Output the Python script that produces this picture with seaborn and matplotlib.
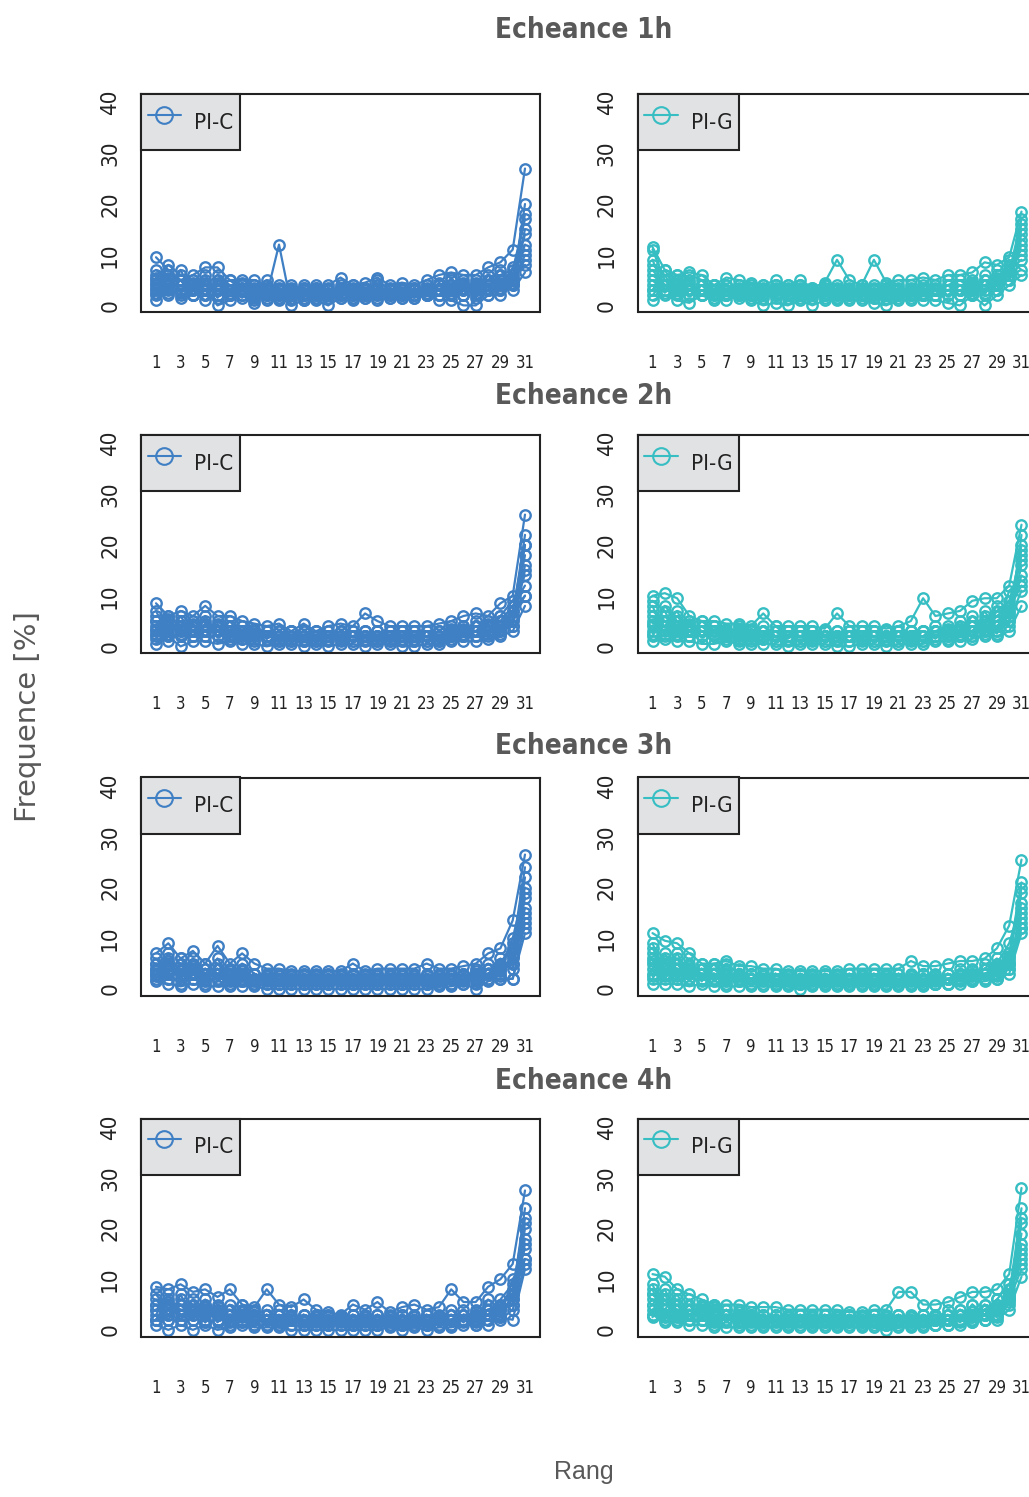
import pandas as pd
import matplotlib
matplotlib.use("Agg")
import matplotlib.pyplot as plt
from matplotlib.lines import Line2D
import seaborn as sns

rangs = list(range(1, 32))
echeances = ["1h", "2h", "3h", "4h"]
produits = ["PI-C", "PI-G"]
couleurs = {"PI-C": "#3F7FC4", "PI-G": "#36BEC3"}

# frequences (%) par rang, quelques membres par panneau
pic_1h = [
    [9.5, 7, 5, 6, 7.5, 7.5, 5, 5, 5, 4, 3, 3, 4, 3, 4, 5.5, 4, 4.5, 5.5, 4, 4.5, 4, 5, 6, 6.5, 6, 6, 7.5, 8.5, 11, 27],
    [1, 4, 1.5, 2, 3, 0, 1, 2, 0.5, 2, 12, 0, 1, 1, 0, 1.5, 1, 2, 1, 1.5, 2, 1.5, 2, 1, 1, 0, 0, 2, 2, 4, 20],
    [5, 8, 6, 5, 4, 6, 4, 3, 4, 3, 2, 3, 2, 3, 2, 3, 2, 3, 2, 3, 2, 3, 3, 3, 4, 3, 4, 3, 5, 5, 14],
    [3, 2, 4, 3, 1, 3, 2, 4, 2, 2, 1, 2, 3, 2, 3, 2, 3, 1.5, 3, 2, 3, 2, 4, 3, 2, 4, 2, 4, 3, 6, 8],
    [7, 5, 3, 4, 6, 2, 3, 1.5, 3, 5, 2, 1, 2, 4, 1.5, 3, 1.5, 3, 4, 2, 3, 3, 2, 4, 5, 2, 4, 5, 7, 4, 10],
    [4, 6, 5, 2, 3, 4, 5, 3, 2, 1, 4, 3, 1, 2, 3, 2, 3, 2, 2, 3, 2, 2, 3, 2, 3, 5, 3, 3, 4, 3, 6.5],
    [6, 3, 7, 2, 5, 3, 2, 4.5, 1, 3, 2, 4, 2, 3.5, 2, 4, 2, 3.5, 2.5, 3, 1.5, 3.5, 2, 4.5, 3, 4, 1.5, 6, 3, 5, 12],
    [2, 6, 2.5, 4.5, 2, 5, 3, 2, 3.5, 2, 3, 2, 3.5, 2, 3, 2, 4, 2, 3, 2, 3.5, 2, 3, 2, 5.5, 2, 5, 2, 6, 7, 17],
    [4.5, 4, 4, 3.5, 4, 2, 4, 3, 3, 3.5, 1.5, 2.5, 3, 1.5, 2.5, 3.5, 2, 2.5, 5, 3, 2.5, 3, 3.5, 3, 2.5, 3.5, 3, 4, 5, 5, 9],
    [5.5, 2.5, 5, 2, 4.5, 1.5, 4, 2, 4, 1.5, 3.5, 1.5, 3.5, 1.5, 3.5, 1.5, 3.5, 1.5, 3.5, 1.5, 3.5, 1.5, 4, 2, 4, 2, 4.5, 3, 6, 4.5, 15],
    [2.5, 5.5, 3, 5, 2, 4.5, 2, 4, 1.5, 3.5, 1.5, 3.5, 1.5, 3.5, 1.5, 3.5, 1.5, 3.5, 1.5, 3.5, 1.5, 3.5, 2, 4, 2, 4.5, 2.5, 5, 3.5, 7.5, 11],
    [3.5, 3.5, 2, 3, 4, 3, 2.5, 3.5, 2.5, 2.5, 2.5, 2, 2.5, 2.5, 2, 2.5, 2.5, 2, 2.5, 2.5, 2.5, 2, 2.5, 3, 3.5, 3, 3.5, 3.5, 4.5, 5.5, 18],
]
pig_1h = [
    [11.5, 7, 6, 6.5, 6, 4, 5.5, 5, 4.5, 4, 5, 4, 5, 3.5, 4.5, 9, 5, 4, 9, 4.5, 5, 5, 5.5, 5, 6, 6, 6.5, 8.5, 8, 9.5, 18.5],
    [1, 2, 1, 0.5, 2, 1, 1, 2, 1, 0, 0.5, 0, 1, 0, 1, 1, 1, 1, 0.5, 0, 1, 1, 1, 1, 0.5, 0, 2, 0, 2, 4, 6],
    [11, 5, 4, 3, 4, 3, 3, 4, 3, 3, 3, 3, 3, 3, 3, 3, 3, 3, 3, 3, 3, 3, 3, 3, 3, 3, 4, 4, 5, 6, 16],
    [4, 3, 5, 2, 3, 2, 2, 2, 2, 2, 2, 2, 2, 2, 2, 2, 2, 2, 2, 2, 2, 2, 2, 2, 2, 3, 3, 3, 4, 5, 12],
    [8, 6, 2, 4, 2, 3, 4, 3, 4, 3, 4, 2, 4, 2, 3, 4, 2, 3, 4, 3, 4, 2, 4, 3, 4, 5, 3, 6, 5, 7, 9],
    [3, 7, 3, 6, 5, 2, 3, 1.5, 2, 4, 2, 4, 2, 3, 4, 2, 4, 2, 2, 4, 2, 4, 2, 4, 3, 2, 5, 2, 7, 6, 14],
    [6, 4, 5, 3, 4, 4, 2, 4, 2, 3, 2, 3, 3, 2, 2, 3, 3, 3, 1.5, 3, 2, 3, 3, 2, 5, 4, 2, 5, 3, 8, 10],
    [2, 5, 3, 5, 2, 4, 4, 2, 3, 2, 4, 2, 4, 2, 4, 1.5, 3, 2, 3, 2, 3, 2, 3, 2, 3, 4, 4, 3, 6, 5, 15],
    [9, 3, 6, 2, 4, 3, 3, 3, 2, 3, 2, 3, 2, 3, 2, 3, 2, 4, 2, 3, 2, 3, 2, 4, 2, 3, 2, 4, 4, 9, 7],
    [5, 2.5, 4.5, 2, 4, 1.5, 4, 2, 3.5, 1.5, 3.5, 1.5, 3.5, 1.5, 3.5, 1.5, 3.5, 1.5, 3.5, 1.5, 3.5, 1.5, 3.5, 2, 4, 2, 4.5, 2.5, 5.5, 6, 13],
    [3, 5, 2.5, 4.5, 2, 4, 2, 3.5, 1.5, 3.5, 1.5, 3.5, 1.5, 3.5, 1.5, 3.5, 1.5, 3.5, 1.5, 3.5, 1.5, 3.5, 2, 3.5, 2, 4, 2.5, 5, 3, 7, 11],
    [7, 4, 3.5, 3, 3, 2.5, 2.5, 2.5, 2.5, 2.5, 2.5, 2.5, 2.5, 2.5, 2.5, 2.5, 2.5, 2.5, 2.5, 2.5, 2.5, 2.5, 2.5, 3, 3, 3, 3.5, 4, 4.5, 6.5, 17],
]
pic_2h = [
    [8.5, 6, 7, 6, 8, 6, 6, 5, 4.5, 4, 4.5, 3, 4.5, 3, 4, 4.5, 4, 6.5, 5, 4, 4, 4, 4, 4.5, 5, 6, 6.5, 6, 8.5, 10, 26],
    [0.5, 2, 0, 1, 1, 0.5, 1, 0.5, 0.5, 0, 0.5, 0.5, 0, 0.5, 0, 0.5, 0.5, 0, 0.5, 0.5, 0, 0, 0.5, 0.5, 1, 1, 1, 1.5, 2, 3, 8],
    [4, 3, 5, 3, 4, 3, 3, 3, 3, 2, 2, 2, 2, 2, 2, 2, 2, 2, 2, 2, 2, 2, 2, 2, 3, 3, 3, 4, 4, 6, 22],
    [6, 5, 2, 4, 2, 4, 2, 2, 2, 3, 2, 2, 3, 2, 2, 3, 2, 3, 2, 3, 2, 3, 2, 3, 2, 3, 4, 3, 5, 8, 12],
    [2, 4, 4, 5, 5, 2, 4, 1.5, 3, 1.5, 3, 1, 1.5, 1, 3, 1, 3, 1, 3, 1, 3, 1, 3, 1, 2, 4, 2, 5, 3, 5, 18],
    [5, 1, 3, 2, 3, 5, 3, 4, 2, 2, 1.5, 2, 1, 2, 1.5, 2, 1, 2, 1.5, 2, 1.5, 2, 1, 2, 3, 2, 5, 3, 6, 9, 14],
    [3, 6, 2, 5, 3, 4, 2, 3, 2, 3, 2, 3, 2, 3, 2, 3, 2, 3, 2, 3, 2, 3, 2, 3, 2, 4, 3, 5, 4, 7, 20],
    [7, 2, 6, 2, 6, 2, 5, 2, 3, 2, 3, 1, 3, 1, 2, 2, 3, 2, 3, 1, 3, 1, 3, 1, 4, 2, 4, 2, 6, 6, 10],
    [1.5, 5, 3, 3, 4, 3, 3, 3, 1, 3, 1, 3, 2, 2, 2, 1.5, 2, 2, 1, 2, 2, 2, 2, 2, 3, 3, 2, 4, 3, 4, 16],
    [5, 2.5, 5, 2, 4.5, 2, 4, 1.5, 3.5, 1.5, 3, 1.5, 3, 1.5, 3, 1.5, 3, 1.5, 3, 1.5, 3, 1.5, 3, 1.5, 3.5, 2, 4, 2.5, 5, 4, 15],
    [2.5, 5.5, 2.5, 4.5, 2, 4.5, 1.5, 4, 1.5, 3, 1, 3, 1, 3, 1, 3, 1, 3, 1, 3, 1, 3, 1, 3, 1.5, 3.5, 2, 4.5, 2.5, 7, 10],
    [3.5, 3.5, 3.5, 3, 3, 3, 2.5, 2.5, 2.5, 2, 2, 2, 2, 2, 2, 2, 2, 2, 2, 2, 2, 2, 2, 2, 2.5, 2.5, 3, 3, 3.5, 5.5, 20],
]
pig_2h = [
    [10, 10.5, 9.5, 6, 5, 5, 4.5, 4.5, 4, 6.5, 4, 4, 4, 4, 3.5, 6.5, 4, 4, 4, 3.5, 4, 5, 9.5, 6, 6.5, 7, 9, 9.5, 9.5, 12, 24],
    [1, 1.5, 1, 1, 0.5, 0.5, 1, 0.5, 0.5, 0.5, 0.5, 0, 0.5, 0.5, 0.5, 0, 0, 0.5, 0.5, 0, 0.5, 0.5, 0.5, 1, 1, 1, 1.5, 2, 2, 3, 8],
    [7, 5, 4, 3, 3, 3, 3, 3, 3, 3, 3, 2, 3, 2, 2, 2, 2, 2, 2, 2, 2, 2, 2, 3, 3, 3, 4, 4, 5, 7, 20],
    [4, 3, 6, 3, 4, 2, 2, 2, 2, 2, 2, 3, 2, 3, 2, 3, 2, 3, 2, 3, 2, 3, 3, 2, 3, 4, 3, 5, 4, 6, 14],
    [9, 7, 2, 5, 2, 4, 2.5, 3, 2, 3, 2, 2, 3, 1.5, 3, 1.5, 3, 1.5, 3, 1.5, 3, 1.5, 2, 3, 2, 3, 5, 3, 7, 9, 17],
    [3, 8, 5, 2, 3, 2, 3, 1.5, 3, 1.5, 3, 1, 1, 2, 1, 2, 1, 2, 1, 2, 1, 2, 1, 3, 4, 2, 3, 6, 3, 5, 11],
    [6, 4, 7, 2, 5, 3, 3, 2, 3, 2, 4, 2, 3, 2, 3, 2, 3, 2, 3, 2, 3, 2, 3, 2, 3, 2, 4, 3, 6, 8, 19],
    [2, 6, 3, 4, 2, 4, 2, 4, 1, 2, 1, 3, 2, 3, 2, 2, 2, 3, 2, 2, 2, 3, 3, 2, 2, 5, 2, 7, 3, 11, 13],
    [8, 2, 4, 5, 3, 3, 3, 1, 2, 4, 2, 2, 2, 1, 2, 1, 3, 1, 2, 1, 3, 1, 2, 4, 3, 3, 6, 4, 8, 4, 22],
    [5, 2.5, 5, 2, 4, 2, 3.5, 1.5, 3.5, 1.5, 3, 1.5, 3, 1.5, 3, 1.5, 3, 1.5, 3, 1.5, 3, 1.5, 3, 1.5, 3.5, 2, 4, 2.5, 5, 5, 16],
    [2.5, 5, 2.5, 4.5, 2, 4, 1.5, 3.5, 1.5, 3, 1, 3, 1, 3, 1, 3, 1, 3, 1, 3, 1, 3, 1, 3, 1.5, 3.5, 2, 4.5, 2.5, 7.5, 12],
    [4.5, 4, 3.5, 3, 3, 2.5, 2.5, 2.5, 2.5, 2, 2, 2, 2, 2, 2, 2, 2, 2, 2, 2, 2, 2, 2, 2, 2.5, 2.5, 3, 3.5, 4, 6.5, 18],
]
pic_3h = [
    [7, 9, 6, 7.5, 5, 8.5, 5, 7, 5, 4, 4, 3.5, 3.5, 3.5, 3.5, 3.5, 5, 3.5, 4, 4, 4, 4, 5, 4, 4, 4.5, 5, 7, 8, 13.5, 26.5],
    [1.5, 1, 0.5, 1, 0.5, 0.5, 0.5, 0.5, 0.5, 0, 0, 0, 0, 0, 0, 0, 0, 0, 0, 0, 0, 0, 0, 0.5, 0.5, 1, 0, 1.5, 2, 2, 11],
    [4, 4, 4, 3, 3, 3, 2, 2, 2, 2, 2, 2, 2, 2, 2, 2, 2, 2, 2, 2, 2, 2, 2, 2, 2, 2, 3, 4, 4, 6, 22],
    [3, 6, 2, 5, 2, 4, 1, 3, 1.5, 2.5, 1, 2, 1, 2, 1, 2, 1, 2, 1, 2, 1, 2, 1, 2, 1, 3, 2, 3, 5, 9, 15],
    [5, 2, 5, 2, 4, 2, 3, 1.5, 3, 1, 3, 1, 3, 1, 3, 1, 3, 1, 3, 1, 3, 1, 3, 1, 3, 1, 4, 2, 6, 4, 18],
    [2.5, 5, 3, 4, 1, 5, 2, 4, 2, 3, 1.5, 2.5, 1.5, 2.5, 1.5, 2.5, 1.5, 2.5, 1.5, 2.5, 1.5, 2.5, 1.5, 2.5, 2, 2.5, 3, 5, 3, 7, 12],
    [6, 3, 6, 3, 5, 3, 4, 2, 2, 2, 2, 2, 2, 2, 2, 2, 2, 2, 2, 2, 2, 2, 2, 2, 2, 2, 3, 3, 5, 8, 24],
    [3, 7, 3, 6, 3, 6, 2, 5, 3, 1.5, 2.5, 1.5, 2.5, 1.5, 2.5, 1.5, 2.5, 1.5, 2.5, 1.5, 2.5, 1.5, 2.5, 1.5, 2.5, 2, 2, 4, 4, 10, 20],
    [4, 3, 1, 4, 2, 2, 4, 2, 1, 3, 1, 3, 1, 3, 1, 3, 1, 3, 1, 3, 1, 3, 1, 3, 1, 3, 1, 2, 2, 2, 13],
    [5, 2, 5, 2, 4, 1.5, 3.5, 1.5, 3, 1, 3, 1, 3, 1, 3, 1, 3, 1, 3, 1, 3, 1, 3, 1, 3, 1.5, 3.5, 2, 4.5, 5, 16],
    [2, 5.5, 2, 4.5, 1.5, 4, 1.5, 3.5, 1, 2.5, 1, 2.5, 1, 2.5, 1, 2.5, 1, 2.5, 1, 2.5, 1, 2.5, 1, 2.5, 1, 3, 1.5, 4, 2.5, 6.5, 19],
    [3.5, 3.5, 3.5, 3, 3, 3, 2.5, 2.5, 2, 2, 2, 1.5, 1.5, 1.5, 1.5, 1.5, 1.5, 1.5, 1.5, 1.5, 1.5, 1.5, 1.5, 1.5, 2, 2, 2.5, 3, 3.5, 5, 14],
]
pig_3h = [
    [11, 9.5, 9, 7, 5, 5, 5.5, 4.5, 4.5, 4, 4, 3.5, 3.5, 3.5, 3.5, 3.5, 4, 4, 4, 4, 4, 5.5, 4.5, 4.5, 5, 5.5, 5.5, 6, 8, 12.5, 25.5],
    [1, 1, 1, 0.5, 1, 0.5, 0.5, 0.5, 0.5, 0.5, 0.5, 0.5, 0, 0.5, 0.5, 0.5, 0.5, 0.5, 0.5, 0.5, 0.5, 0.5, 0.5, 1, 1, 1, 1.5, 1.5, 2, 3, 11],
    [7, 5, 4, 3, 3, 3, 2, 2, 2, 2, 2, 2, 2, 2, 2, 2, 2, 2, 2, 2, 2, 2, 2, 2, 2, 3, 3, 3, 4, 7, 21],
    [4, 7, 3, 5, 2, 4, 2, 3, 2, 3, 1.5, 2.5, 1.5, 2.5, 1.5, 2.5, 1.5, 2.5, 1.5, 2.5, 1.5, 2.5, 1.5, 2.5, 2, 2.5, 2, 4, 3, 5, 14],
    [9, 3, 6, 2, 4, 2, 4, 1.5, 3, 1.5, 3, 1, 3, 1, 3, 1, 3, 1, 3, 1, 3, 1, 3, 1, 3, 2, 4, 2, 5, 9, 17],
    [3, 5, 2, 4, 3, 2, 3, 2, 1, 2, 1, 2, 1, 2, 1, 2, 1, 2, 1, 2, 1, 2, 1, 2, 1, 3, 2, 5, 3, 5, 12],
    [6, 3, 7, 3, 5, 2, 5, 3, 3, 2, 3, 2, 3, 2, 3, 2, 3, 2, 3, 2, 3, 2, 3, 2, 3, 2, 3, 3, 4, 6, 19],
    [2, 6, 2, 6, 2, 5, 1, 4, 2, 3, 1, 3, 1, 3, 1, 3, 1, 3, 1, 3, 1, 3, 1, 3, 1, 4, 3, 4, 6, 4, 16],
    [5, 2, 5, 2, 3, 3, 2, 2, 2, 2, 2, 1, 2, 1, 2, 1, 2, 1, 2, 1, 2, 1, 2, 1, 2, 2, 2, 2, 2, 4, 12],
    [5.5, 2.5, 5, 2, 4, 1.5, 3.5, 1.5, 3, 1, 3, 1, 3, 1, 3, 1, 3, 1, 3, 1, 3, 1, 3, 1, 3, 1.5, 3.5, 2, 4.5, 5, 15],
    [2.5, 5.5, 2.5, 4.5, 1.5, 4, 1.5, 3, 1, 2.5, 1, 2.5, 1, 2.5, 1, 2.5, 1, 2.5, 1, 2.5, 1, 2.5, 1, 2.5, 1, 3, 1.5, 4, 2.5, 6.5, 20],
    [8, 4, 4, 3.5, 3, 3, 2.5, 2.5, 2, 2, 2, 1.5, 1.5, 1.5, 1.5, 1.5, 1.5, 1.5, 1.5, 1.5, 1.5, 1.5, 1.5, 1.5, 2, 2, 2.5, 3, 3.5, 5.5, 13],
]
pic_4h = [
    [8.5, 8, 9, 7.5, 8, 6.5, 8, 5, 4.5, 8, 5, 4.5, 6, 4, 3.5, 3, 5, 4, 5.5, 3.5, 4.5, 5, 4, 4.5, 8, 5.5, 5.5, 8.5, 10, 13, 27.5],
    [1, 0, 1, 0, 1, 0, 0.5, 1, 0.5, 0.5, 0.5, 0, 0, 0, 0, 0, 0, 0, 0, 0.5, 0, 0.5, 0, 0.5, 0.5, 1, 1, 1, 2.5, 2, 12],
    [4, 5, 4, 3, 4, 3, 3, 3, 2, 2, 2, 2, 2, 2, 2, 2, 2, 2, 2, 2, 2, 2, 2, 2, 2, 3, 3, 4, 5, 7, 24],
    [6, 3, 6, 5, 3, 5, 2, 3, 3, 4, 1.5, 3, 1.5, 2.5, 1.5, 2.5, 1.5, 2.5, 1.5, 2.5, 1.5, 3, 1.5, 2.5, 3, 2, 4, 3, 6, 9, 16],
    [2, 6, 2, 6, 2, 4, 4, 1.5, 3, 1, 3, 1, 3, 1, 2.5, 1, 3, 1, 3, 1, 3, 1, 3, 1, 2, 4, 2, 6, 4, 5, 20],
    [5, 2, 7, 2, 6, 2, 2, 4, 1, 3, 2, 4, 1, 3, 1, 2, 1, 3, 1, 3, 1, 2, 1, 3, 1, 3, 2, 4, 3, 10, 14],
    [3, 7, 3, 4, 5, 3, 5, 2, 2, 2, 2, 2, 2, 2, 2, 2, 2, 2, 2, 2, 2, 2, 2, 2, 2, 2, 3, 3, 5, 8, 22],
    [7, 4, 5, 3, 5, 2, 3, 3, 4, 2, 4, 2, 3, 2, 3, 2, 3, 2, 3, 2, 3, 2, 3, 2, 4, 2, 3, 5, 3, 6, 18],
    [2, 3, 2, 4, 1.5, 4, 1, 5, 1, 3, 1, 2, 1, 2, 1, 2, 1, 2, 1, 2, 1, 2, 1, 2, 1, 2, 1, 2, 2, 4, 13],
    [5, 2, 5, 2, 4.5, 1.5, 4, 1.5, 3.5, 1, 3, 1, 3, 1, 3, 1, 3, 1, 3, 1, 3, 1, 3, 1, 3, 1.5, 3.5, 2, 4.5, 5, 17],
    [2, 5.5, 2, 5, 1.5, 4.5, 1.5, 3.5, 1, 3, 1, 2.5, 1, 2.5, 1, 2.5, 1, 2.5, 1, 2.5, 1, 2.5, 1, 2.5, 1, 3, 1.5, 4, 2.5, 7, 21],
    [4, 4, 4, 3.5, 3.5, 3, 3, 2.5, 2.5, 2, 2, 2, 2, 1.5, 1.5, 1.5, 1.5, 1.5, 1.5, 1.5, 1.5, 1.5, 1.5, 2, 2, 2, 2.5, 3, 4, 6, 14],
]
pig_4h = [
    [11, 10.5, 8, 7, 6, 5, 5, 5, 4.5, 4.5, 4.5, 4, 4, 4, 4, 4, 3.5, 3.5, 4, 4, 7.5, 7.5, 5, 5, 5.5, 6.5, 7.5, 7.5, 8, 11, 28],
    [3, 1.5, 1.5, 1, 1, 0.5, 0.5, 0.5, 0.5, 0.5, 0.5, 0.5, 0.5, 0.5, 0.5, 0.5, 0.5, 0.5, 0.5, 0, 0.5, 0.5, 0.5, 1, 1, 1, 1.5, 2, 2, 4, 10.5],
    [7, 5, 4, 3, 3, 3, 2, 2, 2, 2, 2, 2, 2, 2, 2, 2, 2, 2, 2, 2, 2, 2, 2, 2, 2, 3, 3, 4, 4, 7, 24],
    [5, 8, 3, 5, 2, 4, 2, 3, 1.5, 3, 1.5, 2.5, 1.5, 2.5, 1.5, 2.5, 1.5, 2.5, 1.5, 2.5, 1.5, 2.5, 2, 3, 2, 3, 3, 4, 6, 9, 15],
    [9, 3, 6, 2, 5, 2, 4, 1.5, 3, 1.5, 3, 1, 3, 1, 3, 1, 3, 1, 3, 1, 3, 1, 3, 1, 3, 2, 5, 3, 5, 6, 19],
    [4, 6, 2, 4, 3, 2, 3, 1.5, 2, 1.5, 2, 1.5, 2, 1.5, 2, 1.5, 2, 1.5, 2, 1.5, 2, 1.5, 1, 2, 1, 4, 2, 5, 3, 8, 13],
    [6, 4, 7, 3, 5, 3, 3, 3, 3, 3, 2, 3, 2, 3, 2, 3, 2, 3, 2, 3, 2, 3, 2, 3, 2, 4, 3, 5, 4, 7, 21],
    [3, 7, 3, 6, 2, 5, 2, 4, 2, 2, 3, 2, 3, 2, 3, 2, 3, 2, 3, 2, 3, 2, 3, 2, 4, 2, 5, 3, 6, 5, 17],
    [8, 2, 5, 2, 4, 1, 3, 1, 3, 1, 2, 1, 2, 1, 2, 1, 2, 1, 2, 1, 2, 1, 2, 1, 2, 2, 2, 2, 3, 6, 12],
    [5, 2.5, 5, 2, 4.5, 1.5, 4, 1.5, 3.5, 1, 3, 1, 3, 1, 3, 1, 3, 1, 3, 1, 3, 1, 3, 1, 3, 1.5, 3.5, 2, 4.5, 5.5, 16],
    [2.5, 6, 2.5, 5, 2, 4.5, 1.5, 3.5, 1, 3, 1, 2.5, 1, 2.5, 1, 2.5, 1, 2.5, 1, 2.5, 1, 2.5, 1, 2.5, 1, 3, 1.5, 4, 2.5, 7, 22],
    [7, 5, 4, 4, 3.5, 3, 3, 2.5, 2.5, 2, 2, 2, 2, 1.5, 1.5, 1.5, 1.5, 1.5, 1.5, 1.5, 1.5, 1.5, 1.5, 2, 2, 2, 2.5, 3, 4, 6.5, 14],
]

donnees = {
    ("1h", "PI-C"): pic_1h, ("1h", "PI-G"): pig_1h,
    ("2h", "PI-C"): pic_2h, ("2h", "PI-G"): pig_2h,
    ("3h", "PI-C"): pic_3h, ("3h", "PI-G"): pig_3h,
    ("4h", "PI-C"): pic_4h, ("4h", "PI-G"): pig_4h,
}

sns.set_style("white")
plt.rcParams["font.family"] = ["DejaVu Sans"]
plt.rcParams["font.stretch"] = "condensed"
gris = "#595959"
noir = "#222222"

W, H = 1029, 1497
fig = plt.figure(figsize=(W / 100, H / 100), dpi=100)

tops = [94, 435, 777.5, 1118.5]
lefts = [141, 637.5]
titre_y = [30.5, 395.5, 746, 1081]
bw, bh = 399, 218


def to_long(series):
    rows = []
    for m, vals in enumerate(series):
        for r, v in zip(rangs, vals):
            rows.append({"membre": m, "rang": r, "freq": v})
    return pd.DataFrame(rows)


for i, ech in enumerate(echeances):
    for j, prod in enumerate(produits):
        ax = fig.add_axes([lefts[j] / W, 1 - (tops[i] + bh) / H, bw / W, bh / H])
        col = couleurs[prod]
        df = to_long(donnees[(ech, prod)])
        sns.lineplot(data=df, x="rang", y="freq", units="membre", estimator=None,
                     color=col, marker="o", markersize=7.5, markerfacecolor="none",
                     markeredgecolor=col, markeredgewidth=1.7, linewidth=1.6,
                     legend=False, ax=ax)
        ax.set_xlim(-0.22, 32.22)
        ax.set_ylim(-1.3, 41.7)
        ax.set_xlabel("")
        ax.set_ylabel("")
        ax.set_xticks(rangs)
        ax.set_xticklabels([str(r) if r % 2 else "" for r in rangs])
        ax.set_yticks([0, 10, 20, 30, 40])
        ax.set_yticklabels(["0", "10", "20", "30", "40"], rotation=90, va="center")
        for s in ax.spines.values():
            s.set_color(noir)
            s.set_linewidth(1.5)
        ax.spines["bottom"].set_position(("outward", 2))
        ax.spines["bottom"].set_color("none")
        ax.plot([0, 1], [0, 0], transform=ax.transAxes, color=noir,
                lw=1.5, clip_on=False)
        ax.tick_params(axis="x", direction="out", length=11.5, width=1.3,
                       color=noir, pad=17, labelsize=12, labelcolor=noir)
        ax.tick_params(axis="y", direction="out", length=8, width=1.3,
                       color=noir, pad=7, labelsize=16, labelcolor=noir)
        h = Line2D([], [], color=col, marker="o", markersize=12,
                   markerfacecolor="none", markeredgecolor=col,
                   markeredgewidth=1.5, linewidth=1.5)
        leg = ax.legend([h], [prod], loc="upper left", borderaxespad=0,
                        fancybox=False, framealpha=1, facecolor="#E1E2E4",
                        edgecolor=noir, fontsize=16, handlelength=1.5,
                        handletextpad=0.6, borderpad=0.3, handleheight=2.6)
        leg.get_frame().set_linewidth(1.5)
        for t in leg.get_texts():
            t.set_color(noir)
    fig.text(584 / W, 1 - titre_y[i] / H, "Echeance " + ech, ha="center",
             va="center", fontsize=20, fontweight="bold", color=gris)

fig.text(28 / W, 1 - 717 / H, "Frequence [%]", rotation=90, ha="center",
         va="center", fontsize=21, color=gris, fontstretch="normal")
fig.text(584 / W, 1 - 1472 / H, "Rang", ha="center", va="center",
         fontsize=18, color=gris, family=["Liberation Sans", "DejaVu Sans"],
         fontstretch="normal")

fig.savefig("out.png", dpi=100)
